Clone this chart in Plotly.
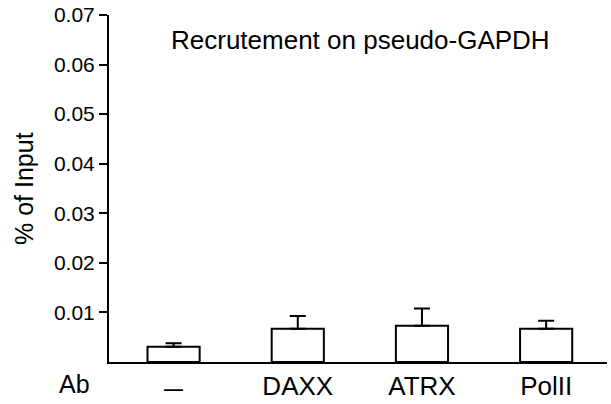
import plotly.graph_objects as go

# data
antibodies = ["—", "DAXX", "ATRX", "PolII"]
pct_input = [0.0031, 0.0067, 0.0073, 0.0067]
err_plus = [0.0007, 0.0026, 0.0035, 0.0016]
y_ticks = [0.01, 0.02, 0.03, 0.04, 0.05, 0.06, 0.07]
y_tick_text = ["0.01", "0.02", "0.03", "0.04", "0.05", "0.06", "0.07"]

font_family = "Liberation Sans, Arial, Helvetica, sans-serif"

# target plot area in pixels
PX_L, PX_R, PX_T, PX_B = 109, 607, 15, 362
W, H = 611, 404
plot_w = PX_R - PX_L
plot_h = PX_B - PX_T


def px(x, y):
    """pixel -> paper coords"""
    return (x - PX_L) / plot_w, (PX_B - y) / plot_h


fig = go.Figure()
fig.add_trace(go.Bar(
    x=antibodies,
    y=pct_input,
    width=0.42,
    marker=dict(color="white", line=dict(color="black", width=2)),
    error_y=dict(
        type="data",
        symmetric=False,
        array=err_plus,
        arrayminus=[0] * len(err_plus),
        color="black",
        thickness=2,
        width=8,
    ),
))

tx, ty = px(360, 40)
ax, ay = px(92, 384)
yx, yy = px(24, 189)

fig.update_layout(
    width=W,
    height=H,
    margin=dict(l=PX_L, r=W - PX_R, t=PX_T, b=H - PX_B),
    paper_bgcolor="white",
    plot_bgcolor="white",
    showlegend=False,
    font=dict(family=font_family, color="black", size=21),
    xaxis=dict(
        range=[-0.52, 3.49],
        showline=True,
        linecolor="black",
        linewidth=2,
        ticks="",
        showgrid=False,
        tickfont=dict(size=26),
        tickvals=antibodies,
        ticktext=["<span style='font-size:19px'><b>—</b></span>", "DAXX", "ATRX", "PolII"],
        automargin=False,
    ),
    yaxis=dict(
        range=[0, 0.07],
        tickvals=y_ticks,
        ticktext=y_tick_text,
        showline=True,
        linecolor="black",
        linewidth=2,
        ticks="outside",
        ticklen=8,
        tickwidth=2,
        tickcolor="black",
        showgrid=False,
        zeroline=False,
        tickfont=dict(size=21),
        automargin=False,
    ),
    annotations=[
        dict(
            text="Recrutement on pseudo-GAPDH",
            x=tx, y=ty, xref="paper", yref="paper",
            xanchor="center", yanchor="middle",
            showarrow=False, font=dict(size=26),
        ),
        dict(
            text="Ab",
            x=ax, y=ay, xref="paper", yref="paper",
            xanchor="right", yanchor="middle",
            showarrow=False, font=dict(size=25),
        ),
        dict(
            text="% of Input",
            x=yx, y=yy, xref="paper", yref="paper",
            xanchor="center", yanchor="middle", textangle=-90,
            showarrow=False, font=dict(size=25),
        ),
    ],
)

# drop the page's default body margin so the figure sits at the window origin
fig.write_html(
    "out.html",
    config={"displayModeBar": False},
    post_script="document.body.style.margin='0';",
)
